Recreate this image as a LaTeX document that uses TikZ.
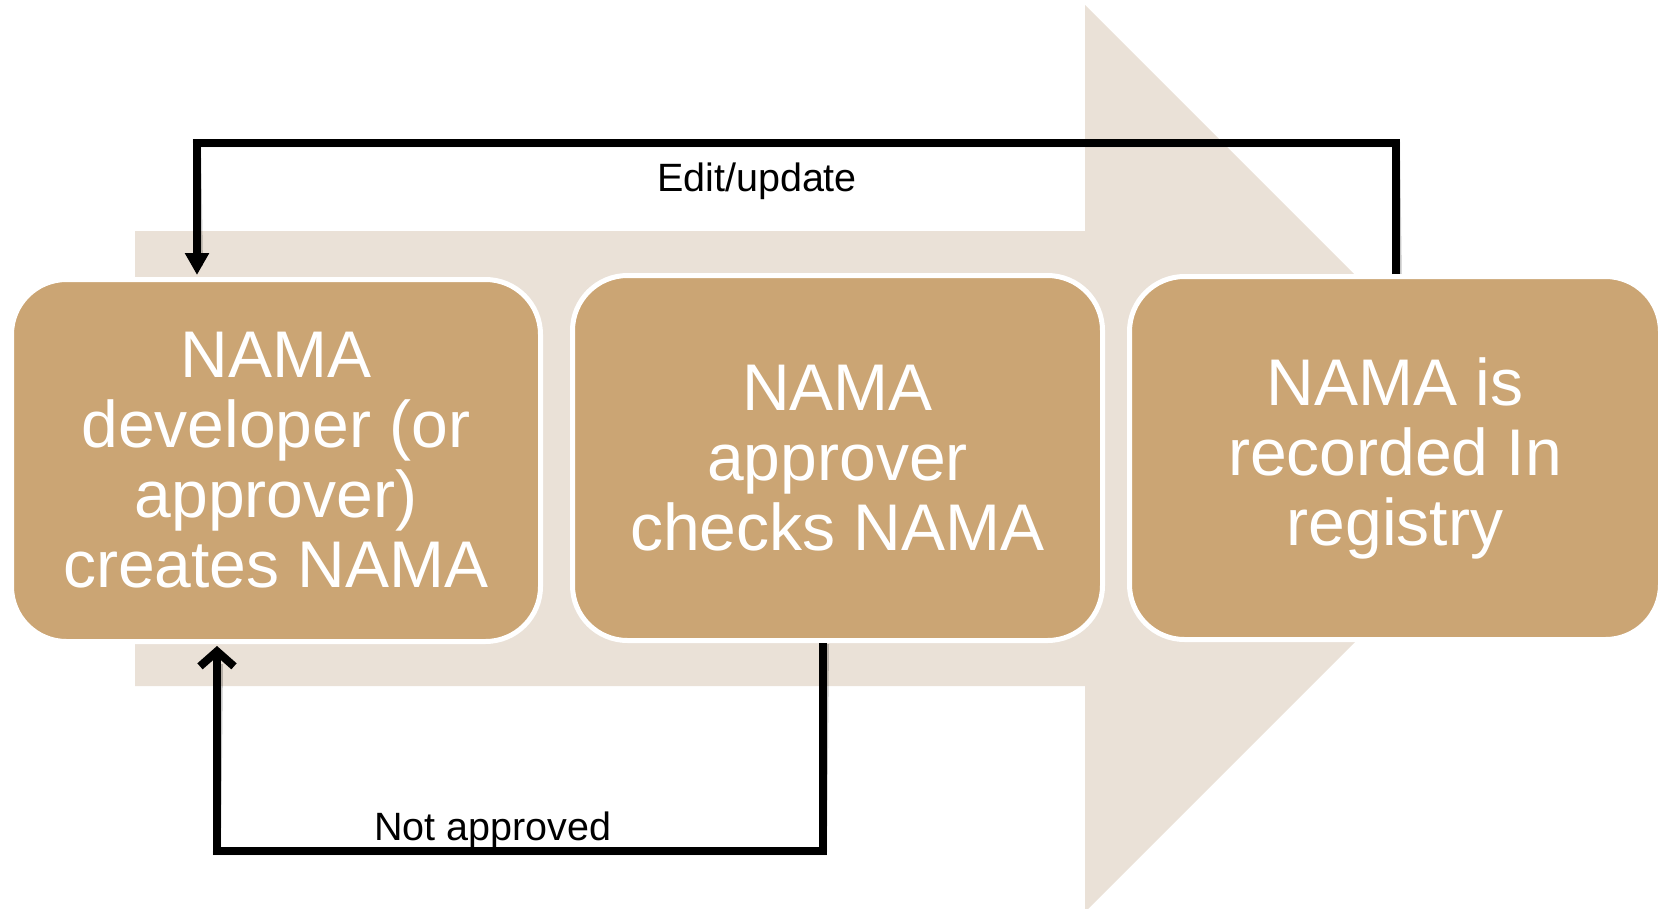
\documentclass[tikz,border=0pt]{standalone}
\usepackage{fontspec}
\setmainfont{Liberation Sans}
\usetikzlibrary{arrows.meta}
\definecolor{tanbox}{RGB}{203,165,116}
\definecolor{arrowbg}{RGB}{234,225,215}
\begin{document}
\begin{tikzpicture}[x=1pt,y=-1pt,
  stagebox/.style={draw=white, line width=5pt, fill=tanbox, rounded corners=55pt,
    text=white, align=center, inner sep=0pt,
    font=\fontsize{66}{70}\selectfont},
  flow/.style={line width=8pt, line join=miter, black},
  flowshadow/.style={line width=8pt, line join=miter, black, opacity=0.22},
  lbl/.style={font=\fontsize{39.5}{44}\selectfont, text=black, inner sep=0pt, anchor=base}]
\useasboundingbox (0,0) rectangle (1663,908);
\clip (0,0) rectangle (1663,908);
% background arrow
\fill[arrowbg] (135,231) -- (1085,231) -- (1085,5) -- (1538.5,458.5) -- (1085,912) -- (1085,686) -- (135,686) -- cycle;
% coordinates for connectors
\coordinate (tl) at (197,143);
\coordinate (br) at (823,851);
\coordinate (bl) at (217,851);
\coordinate (tr) at (1396,143);
% shadows of connectors
\begin{scope}[shift={(2,4)}]
\draw[flowshadow] (1396,290) -- (tr) -- (tl) -- (197,262);
\draw[flowshadow] (823,640) -- (br) -- (bl) -- (217,660);
\end{scope}
% boxes
\node[stagebox, minimum width=529pt, minimum height=362pt] (box1) at (276,460.5)
  {NAMA\\developer (or\\approver)\\creates NAMA};
\node[stagebox, minimum width=530pt, minimum height=365pt] (box2) at (837.5,458)
  {NAMA\\approver\\checks NAMA};
\node[stagebox, minimum width=531pt, minimum height=363pt] (box3) at (1395,458)
  {NAMA is\\recorded In\\registry};
% connectors
\draw[flow, -{Triangle[width=23pt,length=22pt]}] (tr |- box3.north) -- (tr) -- (tl) -- ([yshift=2pt]tl |- box1.north);
\draw[flow, -{Straight Barb[length=15pt,width=34pt]}] (br |- box2.south) -- (br) -- (bl) -- ([yshift=-2pt]bl |- box1.south);
% labels
\node[lbl] (l1) at (757,191) {Edit/update};
\node[lbl] (l2) at (493,840) {Not approved};
\end{tikzpicture}
\end{document}
